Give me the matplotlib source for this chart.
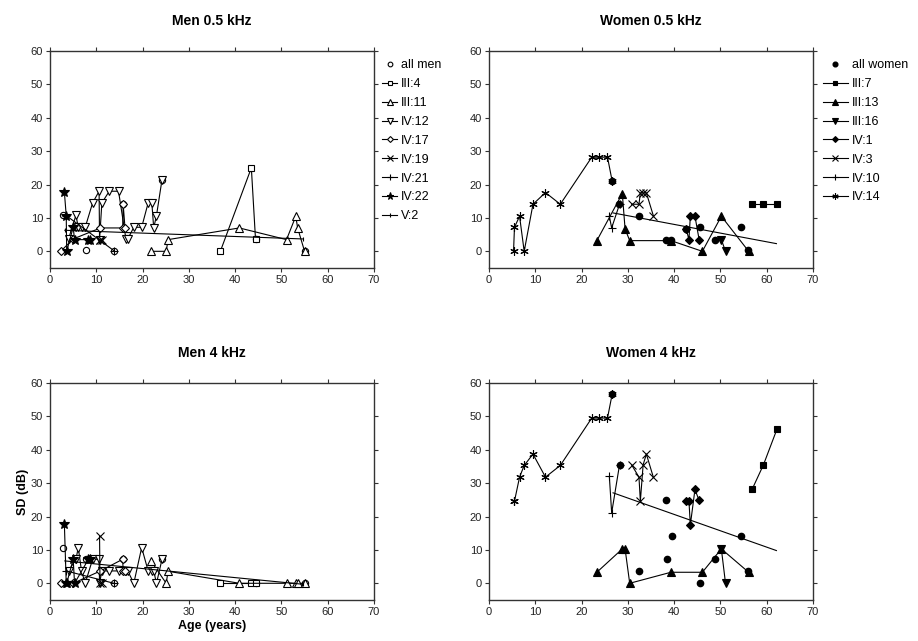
"""SD by age

Four panels of hearing threshold SD against age, men and women at 0.5 and 4 kHz.
Each family member is one line, the dots/circles are all the single subjects.
"""

import matplotlib
matplotlib.use("Agg")
import matplotlib.pyplot as plt

### CONSTS ####
FIG_SIZE = (9.18, 6.41)
DPI = 100
LINE_WIDTH = 0.8
plt.rcParams['font.family'] = ['Liberation Sans', 'DejaVu Sans']
##############

# ---- men ----
M_III4_AGE = [36.8, 43.5, 44.4]
M_III4_05 = [0, 25, 3.6]
M_III4_4K = [0, 0, 0]

M_III11_AGE = [21.8, 25.1, 25.5, 40.9, 51.1, 53.1, 53.5, 55.0]
M_III11_05 = [0, 0, 3.5, 7, 3.5, 10.5, 7, 0]
M_III11_4K = [6.7, 0, 3.6, 0, 0, 0, 0, 0]

M_IV12_AGE = [4.0, 5.6, 6.1, 6.8, 7.6, 9.2, 10.6, 10.7, 11.2, 12.8,
              14.8, 16.4, 16.8, 18.1, 19.8, 21.2, 22.0, 22.4, 23.0, 24.2]
M_IV12_05 = [3.7, 10.8, 7.2, 7.2, 7.2, 14.5, 18, 3.5, 14.5, 18,
             18, 3.7, 3.7, 7.2, 7.2, 14.5, 14.5, 7, 10.7, 21.5]
M_IV12_4K = [3.7, 7.2, 10.7, 3.7, 0, 7.2, 7.2, 0, 3.7, 3.7,
             3.7, 3.7, 3.7, 0, 10.7, 3.7, 3.7, 3.7, 0, 7.2]

M_IV17_AGE = [2.3, 5.0, 10.9, 15.7, 15.8, 16.2]
M_IV17_05 = [0, 3.7, 7, 7, 14.1, 7]
M_IV17_4K = [0, 0, 3.7, 7.2, 3.7, 3.7]

M_IV19_AGE = [10.7, 10.8, 11.3]
M_IV19_05 = [3.5, 3.5, 3.5]
M_IV19_4K = [14.1, 0, 0]

M_IV21_AGE = [3.5, 13.8]
M_IV21_05 = [10.7, 0.2]
M_IV21_4K = [3.7, 0]

M_IV22_AGE = [3.1, 3.5, 3.6, 5.0, 5.3, 8.3, 8.6]
M_IV22_05 = [17.7, 10.7, 0, 7.2, 3.5, 3.5, 3.5]
M_IV22_4K = [17.7, 0, 0, 7.2, 0, 7.2, 7.2]

M_V2_AGE = [3.2, 54.7]
M_V2_05 = [6.3, 3.7]
M_V2_4K = [6.7, -0.3]

M_ALL_AGE = [2.7, 7.8, 13.8, 15.8, 24.2, 44.4, 55.0]
M_ALL_05 = [10.8, 0.3, 0.2, 14.1, 21.5, 3.6, 0]
M_ALL_4K = [10.7, 7.2, 0, 7.2, 7.2, 0, 0]

# ---- women ----
W_III7_AGE = [56.9, 59.3, 62.2]
W_III7_05 = [14.1, 14.1, 14.1]
W_III7_4K = [28.3, 35.5, 46.1]

W_III13_AGE = [23.3, 28.8, 29.4, 30.4, 39.3, 46.1, 50.2, 56.1]
W_III13_05 = [3.2, 17.3, 6.7, 3.2, 3.2, 0, 10.5, 0]
W_III13_4K = [3.3, 10.3, 10.3, 0, 3.3, 3.3, 10.3, 3.3]

W_III16_AGE = [50.2, 51.1]
W_III16_05 = [3.5, 0]
W_III16_4K = [10.3, 0]

W_IV1_AGE = [42.6, 43.2, 43.5, 44.5, 45.4]
W_IV1_05 = [6.7, 3.5, 10.5, 10.5, 3.5]
W_IV1_4K = [24.6, 24.6, 17.5, 28.1, 24.8]

W_IV3_AGE = [30.8, 32.4, 32.7, 33.3, 34.0, 35.5]
W_IV3_05 = [14.1, 14.1, 17.5, 17.5, 17.5, 10.7]
W_IV3_4K = [35.5, 31.8, 24.6, 35.5, 38.7, 31.8]

W_IV10_AGE = [26.0, 26.5, 28.2]
W_IV10_05 = [10.5, 7.0, 14.1]
W_IV10_4K = [32, 21.1, 35.5]

W_IV14_AGE = [5.3, 5.5, 6.6, 7.6, 9.5, 12.2, 15.4, 22.2, 23.8, 25.6, 26.6]
W_IV14_05 = [0, 7.2, 10.5, 0, 14.1, 17.6, 14.1, 28.2, 28.2, 28.2, 21.1]
W_IV14_4K = [24.6, 24.6, 31.8, 35.3, 38.7, 31.8, 35.3, 49.5, 49.5, 49.5, 56.6]

W_ALL_AGE_05 = [26.6, 28.1, 32.4, 38.3, 39.4, 42.6, 45.6, 48.8, 54.5, 55.9]
W_ALL_05 = [21.1, 14.1, 10.7, 3.5, 3.5, 6.7, 7.2, 3.5, 7.2, 0.5]
W_ALL_AGE_4K = [26.6, 28.2, 32.3, 38.3, 38.4, 39.6, 45.6, 48.8, 54.5, 55.9]
W_ALL_4K = [56.6, 35.5, 3.7, 25, 7.3, 14.3, 0.1, 7.3, 14.3, 3.7]

W_FIT_AGE = [26.8, 62.1]
W_FIT_05 = [11.5, 2.3]
W_FIT_4K = [27.1, 9.8]

# label, marker, marker size, always filled
MEN_STYLE = [("III:4", "s", 4.5, False), ("III:11", "^", 5.5, False),
             ("IV:12", "v", 5.5, False), ("IV:17", "D", 4, False),
             ("IV:19", "x", 5.5, False), ("IV:21", "+", 6, False),
             ("IV:22", "*", 7, True), ("V:2", "|", 3, False)]
WOMEN_STYLE = [("III:7", "s", 4.5, True), ("III:13", "^", 5.5, True),
               ("III:16", "v", 5.5, True), ("IV:1", "D", 4, True),
               ("IV:3", "x", 5.5, True), ("IV:10", "+", 6, True),
               ("IV:14", (6, 2, 0), 6, True)]


def style_axes(ax, title):
    """Frame, ticks and limits shared by all four panels"""
    ax.set_xlim(0, 70)
    ax.set_ylim(-5, 60)
    ax.set_xticks(range(0, 71, 10))
    ax.set_yticks(range(0, 61, 10))
    ax.tick_params(direction="out", length=3, width=0.8, labelsize=8,
                   top=True, right=True, colors="#333333", labelcolor="#222222",
                   pad=2)
    for spine in ax.spines.values():
        spine.set_linewidth(1.0)
        spine.set_color("#333333")
    ax.set_title(title, fontsize=10, fontweight="bold", pad=19)


def draw_panel(ax, title, series, styles, all_x, all_y, all_label, filled,
               fit=None, legend_x=1.01, handle_len=1.2):
    """Draws the family members as lines plus the single subjects as points"""
    if fit is not None:
        ax.plot(fit[0], fit[1], color="black", lw=LINE_WIDTH, zorder=2)
    if filled:
        ax.plot(all_x, all_y, "o", ms=4.5, color="black", label=all_label, zorder=3)
    else:
        ax.plot(all_x, all_y, "o", ms=4.5, mfc="white", mec="black",
                mew=0.8, label=all_label, zorder=3)
    for (ages, vals), (label, marker, size, solid) in zip(series, styles):
        face = "black" if (filled or solid) else "white"
        ax.plot(ages, vals, color="black", lw=LINE_WIDTH, marker=marker, ms=size,
                mfc=face, mec="black", mew=0.8, label=label, zorder=4)
    style_axes(ax, title)
    ax.legend(loc="upper left", bbox_to_anchor=(legend_x, 0.985), frameon=False,
              fontsize=9, handlelength=handle_len, handletextpad=0.3,
              labelspacing=0.55, markerscale=0.75, borderaxespad=0.0)


fig = plt.figure(figsize=FIG_SIZE, dpi=DPI)
ax_m05 = fig.add_axes([0.0545, 0.5819, 0.3529, 0.3385])
ax_w05 = fig.add_axes([0.5327, 0.5819, 0.3529, 0.3385])
ax_m4 = fig.add_axes([0.0545, 0.0640, 0.3529, 0.3385])
ax_w4 = fig.add_axes([0.5327, 0.0640, 0.3529, 0.3385])

men_05 = [(M_III4_AGE, M_III4_05), (M_III11_AGE, M_III11_05), (M_IV12_AGE, M_IV12_05),
          (M_IV17_AGE, M_IV17_05), (M_IV19_AGE, M_IV19_05), (M_IV21_AGE, M_IV21_05),
          (M_IV22_AGE, M_IV22_05), (M_V2_AGE, M_V2_05)]
men_4k = [(M_III4_AGE, M_III4_4K), (M_III11_AGE, M_III11_4K), (M_IV12_AGE, M_IV12_4K),
          (M_IV17_AGE, M_IV17_4K), (M_IV19_AGE, M_IV19_4K), (M_IV21_AGE, M_IV21_4K),
          (M_IV22_AGE, M_IV22_4K), (M_V2_AGE, M_V2_4K)]
women_05 = [(W_III7_AGE, W_III7_05), (W_III13_AGE, W_III13_05), (W_III16_AGE, W_III16_05),
            (W_IV1_AGE, W_IV1_05), (W_IV3_AGE, W_IV3_05), (W_IV10_AGE, W_IV10_05),
            (W_IV14_AGE, W_IV14_05)]
women_4k = [(W_III7_AGE, W_III7_4K), (W_III13_AGE, W_III13_4K), (W_III16_AGE, W_III16_4K),
            (W_IV1_AGE, W_IV1_4K), (W_IV3_AGE, W_IV3_4K), (W_IV10_AGE, W_IV10_4K),
            (W_IV14_AGE, W_IV14_4K)]

draw_panel(ax_m05, "Men 0.5 kHz", men_05, MEN_STYLE, M_ALL_AGE, M_ALL_05,
           "all men", False, legend_x=1.01, handle_len=1.2)
draw_panel(ax_w05, "Women 0.5 kHz", women_05, WOMEN_STYLE, W_ALL_AGE_05, W_ALL_05,
           "all women", True, fit=(W_FIT_AGE, W_FIT_05), legend_x=1.015, handle_len=2.0)
draw_panel(ax_m4, "Men 4 kHz", men_4k, MEN_STYLE, M_ALL_AGE, M_ALL_4K, "all men", False)
draw_panel(ax_w4, "Women 4 kHz", women_4k, WOMEN_STYLE, W_ALL_AGE_4K, W_ALL_4K,
           "all women", True, fit=(W_FIT_AGE, W_FIT_4K))
# the two lower panels have no legend in the figure
ax_m4.get_legend().remove()
ax_w4.get_legend().remove()

ax_m4.set_xlabel("Age (years)", fontsize=9, fontweight="bold", labelpad=2)
ax_m4.set_ylabel("SD (dB)", fontsize=9, fontweight="bold", labelpad=1)

fig.savefig("out.png", dpi=DPI)
